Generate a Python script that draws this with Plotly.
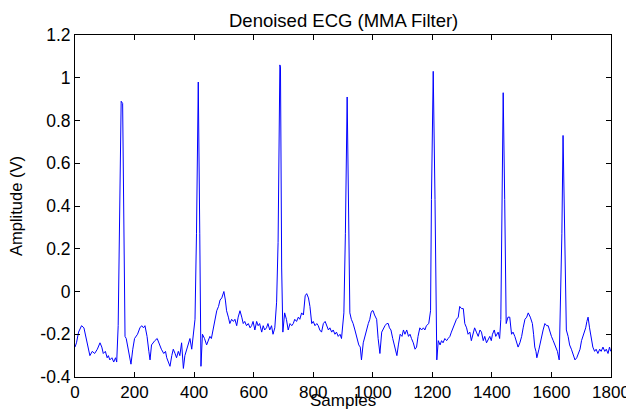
import plotly.graph_objects as go

# Samples (x) and amplitude (V)
samples = [0, 5, 12, 22, 30, 38, 50, 58, 66, 75, 84, 90, 95, 102, 108, 112, 117, 124, 130, 136, 140,
           145, 149, 155, 160, 164, 168, 172, 178, 183, 188, 194, 200, 210, 218, 224, 230, 235, 242, 248,
           252, 257, 262, 268, 276, 283, 290, 298, 304, 308, 313, 319, 325, 330, 336, 341, 347, 352, 358,
           364, 369, 375, 380, 386, 392, 398, 403, 408, 414, 419, 423, 428, 435, 442, 448, 453, 458, 464,
           470, 476, 482, 487, 493, 500, 505, 509, 515, 520, 526, 532, 537, 543, 548, 554, 560, 565, 570,
           576, 582, 588, 593, 598, 604, 610, 615, 620, 627, 632, 637, 643, 648, 654, 660, 665, 671, 677,
           682, 688, 690, 694, 698, 704, 710, 716, 722, 728, 733, 738, 744, 750, 755, 761, 767, 773, 778,
           784, 789, 795, 800, 806, 812, 817, 822, 828, 834, 840, 845, 851, 856, 862, 867, 873, 878, 884,
           890, 895, 903, 908, 914, 918, 923, 928, 934, 940, 945, 949, 953, 958, 962, 968, 973, 979, 985,
           990, 994, 998, 1001, 1006, 1013, 1018, 1024, 1030, 1036, 1041, 1047, 1052, 1056, 1061, 1067,
           1073, 1077, 1081, 1086, 1092, 1098, 1103, 1108, 1114, 1120, 1125, 1130, 1136, 1142, 1147, 1152,
           1158, 1164, 1170, 1175, 1180, 1188, 1194, 1197, 1203, 1209, 1215, 1220, 1226, 1231, 1236, 1242,
           1248, 1253, 1259, 1264, 1270, 1275, 1281, 1287, 1292, 1298, 1304, 1309, 1315, 1320, 1326, 1331,
           1337, 1342, 1348, 1354, 1360, 1365, 1371, 1376, 1382, 1388, 1393, 1398, 1402, 1408, 1413, 1421,
           1426, 1430, 1434, 1438, 1443, 1448, 1454, 1460, 1466, 1471, 1477, 1482, 1488, 1494, 1500, 1505,
           1511, 1517, 1522, 1529, 1536, 1540, 1544, 1548, 1551, 1558, 1566, 1572, 1578, 1584, 1589, 1595,
           1600, 1606, 1611, 1620, 1626, 1630, 1635, 1639, 1645, 1650, 1656, 1661, 1667, 1673, 1679, 1685,
           1690, 1696, 1701, 1706, 1710, 1715, 1719, 1723, 1728, 1734, 1739, 1745, 1750, 1756, 1762, 1767,
           1773, 1779, 1784, 1790, 1795, 1799]
amplitude = [-0.26, -0.24, -0.19, -0.16, -0.17, -0.22, -0.30, -0.28, -0.29, -0.27, -0.24, -0.26, -0.29, -0.28,
             -0.31, -0.30, -0.32, -0.31, -0.33, -0.31, -0.33,
             -0.16, 0.19, 0.89, 0.88, 0.40, -0.21, -0.22, -0.27, -0.30, -0.34, -0.27, -0.22, -0.20, -0.17,
             -0.16, -0.17, -0.16, -0.21, -0.28, -0.32, -0.25, -0.24, -0.23, -0.22, -0.25, -0.27, -0.29,
             -0.28, -0.31, -0.33, -0.35, -0.30, -0.27, -0.29, -0.31, -0.28, -0.30, -0.24, -0.36, -0.30, -0.27,
             -0.25, -0.22, -0.27, -0.20, -0.13, 0.27, 0.98, 0.27, -0.35, -0.20, -0.22, -0.25, -0.23, -0.21,
             -0.22, -0.18, -0.14, -0.09, -0.07, -0.04, -0.03, 0.00, -0.04, -0.09, -0.12, -0.15, -0.13,
             -0.14, -0.13, -0.16, -0.12, -0.09, -0.12, -0.15, -0.14, -0.16, -0.15, -0.17, -0.16, -0.14,
             -0.18, -0.14, -0.16, -0.15, -0.19, -0.16, -0.18, -0.17, -0.15, -0.18, -0.16, -0.20, -0.17,
             -0.05, 0.23, 1.06, 1.05, 0.11, -0.19, -0.10, -0.13, -0.18, -0.15, -0.16, -0.15, -0.13, -0.14,
             -0.12, -0.13, -0.10, -0.11, -0.02, -0.01, -0.03, -0.07, -0.15, -0.14, -0.16, -0.15, -0.16,
             -0.18, -0.19, -0.15, -0.14, -0.16, -0.18, -0.17, -0.19, -0.18, -0.20, -0.19, -0.21, -0.20,
             -0.22, -0.10, 0.27, 0.91, 0.43, -0.10, -0.13, -0.15, -0.18, -0.21, -0.23, -0.25, -0.26, -0.32,
             -0.24, -0.21, -0.18, -0.15, -0.13, -0.10, -0.09, -0.09, -0.11, -0.13, -0.22, -0.29, -0.19,
             -0.17, -0.16, -0.15, -0.15, -0.17, -0.18, -0.22, -0.26, -0.28, -0.30, -0.25, -0.20, -0.21,
             -0.18, -0.20, -0.18, -0.21, -0.20, -0.22, -0.24, -0.27, -0.26, -0.21, -0.17, -0.18, -0.17,
             -0.18, -0.16, -0.15, -0.09, 0.43, 1.03, 0.43, -0.32, -0.23, -0.25, -0.23, -0.24, -0.22, -0.23,
             -0.22, -0.21, -0.19, -0.17, -0.15, -0.13, -0.12, -0.07, -0.08, -0.08, -0.15, -0.17, -0.20,
             -0.19, -0.23, -0.20, -0.17, -0.19, -0.21, -0.18, -0.19, -0.23, -0.21, -0.24, -0.22, -0.21,
             -0.23, -0.20, -0.18, -0.21, -0.19, -0.22, -0.13, 0.43, 0.93, 0.43, -0.15, -0.12, -0.12, -0.20,
             -0.19, -0.21, -0.23, -0.26, -0.24, -0.21, -0.17, -0.13, -0.12, -0.10, -0.12, -0.15, -0.20, -0.26,
             -0.28, -0.31, -0.27, -0.21, -0.18, -0.15, -0.16, -0.16, -0.19, -0.21, -0.23, -0.25, -0.28,
             -0.32, -0.05, 0.27, 0.73, 0.27, -0.18, -0.21, -0.25, -0.27, -0.30, -0.32, -0.31, -0.29, -0.27,
             -0.23, -0.21, -0.19, -0.17, -0.14, -0.12, -0.17, -0.21, -0.26, -0.28, -0.27, -0.29, -0.27, -0.28,
             -0.26, -0.28, -0.27, -0.29, -0.26, -0.28, -0.27, -0.29, -0.28]

x_ticks = [0, 200, 400, 600, 800, 1000, 1200, 1400, 1600, 1800]
x_labels = ["0", "200", "400", "600", "800", "1000", "1200", "1400", "1600", "1800"]
y_ticks = [-0.4, -0.2, 0, 0.2, 0.4, 0.6, 0.8, 1, 1.2]
y_labels = ["-0.4", "-0.2", "0", "0.2", "0.4", "0.6", "0.8", "1", "1.2"]

FONT = "Liberation Sans, Arial, sans-serif"

fig = go.Figure(go.Scatter(x=samples, y=amplitude, mode="lines",
                           line=dict(color="#0000ff", width=1)))

axis_common = dict(showline=True, linecolor="black", linewidth=1, mirror="ticks",
                   ticks="inside", ticklen=5, tickcolor="black", showgrid=False, zeroline=False,
                   automargin=False)

# The page body adds an 8px offset, so the figure is 8px smaller and margins shifted accordingly
fig.update_layout(
    width=626, height=402,
    margin=dict(l=67, r=23, t=27, b=33),
    paper_bgcolor="white", plot_bgcolor="white",
    showlegend=False,
    xaxis=dict(range=[0, 1800], tickvals=x_ticks, ticktext=x_labels,
               tickfont=dict(family=FONT, size=17, color="black"), **axis_common),
    yaxis=dict(range=[-0.4, 1.2], tickvals=y_ticks, ticktext=y_labels,
               tickfont=dict(family=FONT, size=17.5, color="black"), **axis_common),
    annotations=[
        dict(text="Denoised ECG (MMA Filter)", x=0.5, y=1, xref="paper", yref="paper",
             showarrow=False, font=dict(family=FONT, size=18.5, color="black"),
             xanchor="center", yanchor="middle", yshift=15),
        dict(text="Samples", x=0.5, y=0, xref="paper", yref="paper",
             showarrow=False, font=dict(family=FONT, size=17, color="black"),
             xanchor="center", yanchor="middle", yshift=-23),
        dict(text="Amplitude (V)", x=0, y=0.5, xref="paper", yref="paper", textangle=-90,
             showarrow=False, font=dict(family=FONT, size=16.5, color="black"),
             xanchor="center", yanchor="middle", xshift=-59),
    ],
)

fig.write_html("out.html")
